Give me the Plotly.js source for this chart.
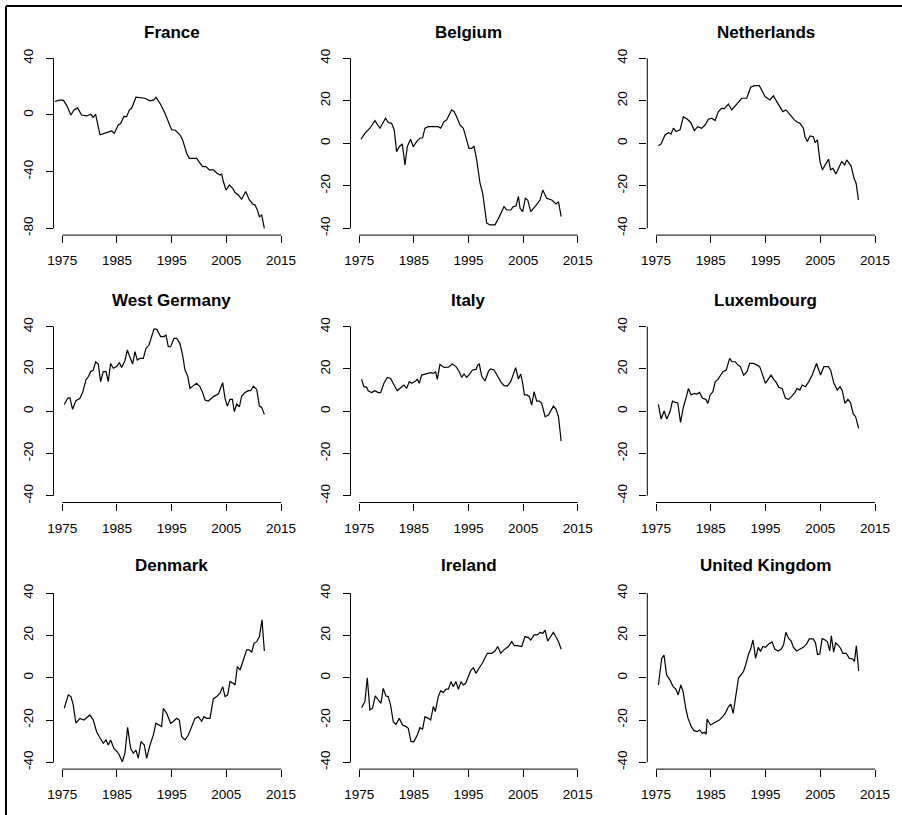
<!DOCTYPE html>
<html><head><meta charset="utf-8">
<script src="https://cdn.plot.ly/plotly-3.0.1.min.js"></script>
<style>html,body{margin:0;padding:0;background:#fff;} #chart{width:902px;height:815px;}</style>
</head><body><div id="chart"></div>
<script>
// ---- data ----
const countries = ["France","Belgium","Netherlands","West Germany","Italy","Luxembourg","Denmark","Ireland","United Kingdom"];
const xTicks = [1975,1985,1995,2005,2015];
const yTicks = [-40,-20,0,20,40];
const yTicksFrance = [-80,-40,0,40];

const franceYear = [1973.66,1974.45,1975.18,1975.79,1976.59,1977.13,1977.80,1978.54,1979.45,1980.18,1980.67,1981.10,1981.90,1982.50,1983.11,1984.02,1984.51,1985.24,1985.67,1986.28,1986.77,1987.26,1987.68,1988.48,1989.21,1990.12,1991.04,1991.77,1992.13,1992.87,1993.78,1995.00,1995.61,1996.52,1997.01,1997.74,1998.23,1998.96,1999.57,2000.18,2000.67,2001.28,2001.89,2002.62,2003.23,2003.84,2004.15,2004.45,2004.94,2005.55,2006.16,2006.59,2007.20,2007.80,2008.54,2009.21,2009.82,2010.24,2010.67,2011.04,2011.46,2011.95];
const franceValue = [9.5,10.5,10.5,7,0,3.5,5,0,-0.7,0.5,-1.6,0.5,-14,-13.5,-12.5,-11.3,-13,-7,-6,-1,-1.2,3.5,4.7,12.5,12.2,11.8,10,10.6,12.5,8.2,1.2,-10.6,-10.6,-14,-17.6,-27,-30.6,-30.6,-30.6,-34,-36.5,-36.5,-38.8,-38.8,-41,-42.4,-41.6,-47,-53,-49.4,-51.8,-54.8,-56.5,-59.5,-54,-60,-62.8,-63.5,-67,-71.8,-70.6,-80];

const belgiumYear = [1975.31,1976.04,1976.95,1977.87,1978.79,1979.82,1980.31,1980.92,1981.41,1981.84,1982.33,1982.88,1983.37,1983.79,1984.40,1984.89,1985.50,1986.11,1986.60,1987.03,1987.64,1988.56,1989.47,1989.90,1990.51,1991.00,1991.92,1992.34,1992.83,1993.44,1994.05,1994.66,1995.09,1995.58,1996.01,1996.50,1997.11,1997.60,1998.33,1998.94,1999.85,2000.65,2001.50,2001.99,2002.72,2003.21,2003.70,2004.13,2004.44,2004.92,2005.41,2005.84,2006.39,2007.18,2008.09,2008.59,2009.32,2010.24,2011.03,2011.47,2011.96];
const belgiumValue = [1.9,4.7,7.1,10.7,7.1,11.8,9.8,9.4,6.3,-3.9,-1.6,-0.3,-10.2,-1.6,1.9,-1.6,0.8,2.4,2.6,7.1,7.8,7.8,7.8,7.1,10.2,11,15.7,15,12.5,8.6,7.1,1.6,-2.4,-2.4,-1.3,-7.8,-18.8,-23.5,-37.6,-38.4,-38.4,-34.5,-29.8,-31.4,-31.4,-29.8,-29.5,-25,-30.6,-32.2,-25.9,-26.7,-32.2,-29.8,-26.7,-22,-25.9,-26.7,-28.5,-27.5,-34.5];

const netherlandsYear = [1975.43,1975.91,1976.64,1977.25,1977.74,1978.17,1978.65,1979.38,1979.99,1980.72,1981.33,1982.00,1982.61,1983.34,1983.95,1984.56,1985.17,1985.78,1986.39,1986.99,1987.42,1988.21,1988.82,1989.73,1990.65,1991.56,1992.29,1992.96,1993.87,1994.91,1995.82,1996.43,1997.22,1998.14,1998.74,1999.47,2000.27,2000.88,2001.30,2001.91,2002.21,2002.64,2003.13,2003.74,2004.04,2004.47,2004.95,2005.38,2006.07,2006.50,2006.88,2007.31,2007.85,2008.33,2008.91,2009.45,2009.83,2010.63,2011.16,2011.54,2011.97];
const netherlandsValue = [-1.1,-0.3,3.9,5,4.4,7.1,5.5,6.3,12.5,11.3,9.8,6,7.8,7.1,8.6,11.3,11.8,10.7,14.9,16.5,16.2,18.5,15.7,18.5,21.2,21.2,26.4,27.1,27.1,22,20.4,22.3,18.8,14.9,15.7,13.3,11,9.8,9.4,7.1,3.1,0.8,3.5,3.1,0.3,1.6,-8.6,-12.5,-9.4,-7.5,-12.5,-11.8,-14.4,-11.8,-8.6,-10.2,-7.8,-10.7,-16.5,-18.8,-26.7];

const westGermanyYear = [1975.37,1975.98,1976.40,1976.89,1977.50,1978.23,1978.72,1979.33,1979.76,1980.18,1980.67,1981.10,1981.59,1982.01,1982.50,1982.99,1983.41,1983.84,1984.33,1984.94,1985.43,1985.85,1986.46,1986.89,1987.38,1987.87,1988.29,1988.72,1989.21,1989.82,1990.30,1990.85,1991.77,1992.26,1992.99,1993.60,1993.96,1994.39,1994.82,1995.43,1995.91,1996.52,1997.01,1997.44,1997.93,1998.35,1998.96,1999.57,2000.18,2000.67,2001.10,2001.71,2002.62,2003.54,2004.33,2004.76,2005.18,2005.67,2006.10,2006.46,2006.89,2007.38,2007.80,2008.41,2009.02,2009.45,2009.94,2010.55,2011.04,2011.46,2011.95];
const westGermanyValue = [3.2,6.1,6.4,0.9,5,6.1,8.8,14.8,16.3,18.7,19.5,23.4,22.3,14,18.7,18.7,14,22.6,20.3,21.1,23,20.7,23.9,29,25.5,22.3,28.2,24.2,25,25,29.7,31.3,38.8,38.8,35.3,35.3,36,30.5,30.5,34.5,34.5,32,26.4,19.5,16.6,10.8,12.1,13.2,11.6,8.8,5.3,4.8,6.9,8.1,13.5,6.1,2.4,5.6,5.6,-0.2,3.4,2.1,7.2,8.8,9.7,9.7,11.8,10.3,2.4,1.8,-1.5];

const italyYear = [1975.43,1975.85,1976.34,1976.65,1977.26,1977.87,1978.48,1978.91,1979.52,1980.13,1980.74,1981.35,1981.96,1982.57,1983.18,1983.67,1984.16,1984.59,1985.20,1985.63,1985.99,1986.42,1987.03,1987.64,1988.07,1988.56,1988.98,1989.29,1989.78,1990.51,1991.31,1992.04,1992.71,1993.32,1993.75,1994.18,1994.66,1995.15,1995.76,1996.37,1996.68,1996.98,1997.41,1998.02,1998.63,1999.06,1999.67,2000.28,2000.89,2001.50,2002.11,2002.72,2003.21,2003.64,2004.13,2004.56,2004.92,2005.23,2005.66,2006.15,2006.57,2007.00,2007.49,2007.98,2008.40,2009.02,2009.63,2010.54,2011.03,2011.47,2011.96];
const italyValue = [15.1,11.6,11.4,9.7,8.8,9.7,8.8,8.8,13.2,16,15.5,12.9,9.7,11.1,12.4,10.8,14,13.2,14,15.1,13.2,17.1,17.4,17.9,18.2,17.9,18.7,15.1,22.2,20.7,20.8,22.3,21.1,18.7,16,17.6,16,17.4,19.5,19.8,21.8,22.3,16.6,14.3,18.7,20,19.5,16.8,14,12.1,11.9,14,17.9,20.6,15.2,17.6,13.2,7.7,7.7,6.9,2.9,9.2,4.8,4.8,3.7,-2.6,-1.8,2.4,0.9,-2.6,-14.1];

const luxembourgYear = [1975.43,1975.92,1976.47,1976.95,1977.56,1977.99,1978.48,1978.97,1979.46,1980.01,1980.50,1980.92,1981.41,1981.96,1982.45,1982.94,1983.49,1984.10,1984.47,1984.89,1985.38,1985.81,1986.24,1986.73,1987.21,1987.82,1988.44,1988.86,1989.47,1989.96,1990.39,1991.00,1991.61,1992.10,1992.83,1993.44,1993.93,1994.36,1994.97,1995.58,1996.01,1996.50,1996.98,1997.41,1998.02,1998.63,1999.24,1999.73,2000.34,2000.77,2001.26,2001.69,2002.30,2002.91,2003.52,2004.31,2005.05,2005.66,2006.45,2006.88,2007.49,2008.11,2008.59,2009.02,2009.50,2010.05,2010.53,2011.02,2011.45,2012.00];
const luxembourgValue = [3.2,-3.7,0.1,-3.7,-0.2,4.8,4.2,4,-5.3,2.1,6.5,10.8,7.7,8.4,8.1,8.9,6.1,5.6,3.7,7.7,9.2,14,14.8,17.1,18.7,19.5,25,23.4,23.4,21.8,21.1,17.1,18.7,22.6,22.6,21.8,21.1,17.9,13.2,15.5,17.1,15.1,13.5,11.3,10.8,6.1,5.6,6.9,8.8,10.8,10,12.4,11.6,14,17.1,22.6,17.1,21.1,21.1,19.5,13.2,10,11.6,9.7,3.7,5.6,4,-1.3,-2.6,-8.1];

const denmarkYear = [1975.37,1975.79,1976.10,1976.59,1977.01,1977.50,1978.23,1978.96,1979.57,1980.06,1980.67,1981.28,1981.77,1982.50,1982.99,1983.41,1983.84,1984.45,1985.06,1985.43,1985.98,1986.46,1986.95,1987.50,1987.99,1988.48,1988.90,1989.39,1990.00,1990.43,1991.04,1991.65,1992.13,1992.74,1993.17,1993.48,1994.09,1994.82,1995.30,1995.91,1996.40,1996.83,1997.44,1998.05,1998.66,1999.27,1999.88,2000.49,2000.91,2001.40,2002.01,2002.62,2003.23,2003.84,2004.33,2004.76,2005.24,2005.67,2006.28,2006.59,2007.01,2007.50,2008.11,2008.72,2009.21,2009.63,2010.06,2010.55,2011.04,2011.52,2011.95];
const denmarkValue = [-14.4,-11.3,-8.1,-8.9,-12.9,-21.5,-19.2,-20,-18.4,-17.6,-20,-25.5,-27.9,-31,-29.4,-31.8,-29.4,-33.4,-35,-36.5,-39.7,-35.7,-23.4,-33.4,-35.7,-34.2,-38.1,-30.2,-31.8,-38.1,-31.8,-27.1,-21.5,-22.3,-23.1,-14.4,-16.8,-21.5,-20.7,-19.2,-20,-27.9,-29.4,-27.1,-23.1,-19.2,-18.4,-20.6,-18.4,-19.2,-19.2,-10,-8.9,-7.3,-4.2,-8.9,-8.1,-1.8,-2.6,-3.4,5.3,3.7,8.4,13.2,13.2,12.1,16.3,17.1,19.5,27.4,12.7];

const irelandYear = [1975.43,1976.04,1976.47,1976.95,1977.44,1977.93,1978.48,1978.97,1979.40,1979.89,1980.31,1980.74,1981.23,1981.72,1982.33,1982.94,1983.55,1983.98,1984.47,1985.02,1985.63,1986.11,1986.60,1987.03,1987.64,1988.07,1988.56,1988.92,1989.47,1989.90,1990.39,1990.88,1991.31,1991.79,1992.22,1992.71,1993.14,1993.63,1994.05,1994.48,1994.97,1995.46,1995.89,1996.37,1996.92,1997.53,1998.02,1998.45,1999.24,1999.85,2000.34,2000.89,2001.50,2002.30,2002.91,2003.40,2003.95,2004.74,2005.35,2005.96,2006.39,2007.00,2007.61,2008.10,2008.59,2009.02,2009.50,2010.54,2011.15,2011.52,2011.96];
const irelandValue = [-14.1,-11.3,0,-15.2,-14.4,-8.6,-10.5,-12.1,-5,-8.6,-8.9,-12.9,-20.8,-22.1,-19.2,-22.3,-23.1,-23.9,-30.2,-30.2,-27.1,-23.6,-24.3,-18.4,-19.2,-20,-13.6,-16,-8.9,-6.2,-6.9,-5.4,-5.4,-1.8,-4.2,-1.8,-5.4,-1.8,-3.4,-2.6,0.6,3.7,4.8,2.1,4.5,6.9,9.5,11.6,11.6,12.7,14.8,11.6,13.2,14.8,17.1,15.2,15.2,14.8,19.5,19,17.9,20.3,20.3,21.5,21,22.6,17.4,21.5,18.7,16.8,13.5];

const ukYear = [1975.43,1975.85,1976.03,1976.45,1976.93,1977.53,1978.13,1978.62,1979.04,1979.52,1979.94,1980.42,1980.84,1981.44,1981.93,1982.47,1982.95,1983.43,1983.85,1984.15,1984.33,1984.93,1985.54,1986.08,1986.56,1987.16,1987.64,1988.24,1988.66,1989.09,1989.57,1990.05,1990.47,1990.95,1991.37,1991.85,1992.28,1992.70,1993.18,1993.66,1994.08,1994.50,1994.98,1995.58,1996.19,1996.67,1997.27,1997.87,1998.29,1998.71,1999.19,1999.68,2000.10,2000.70,2001.30,2001.90,2002.50,2002.98,2003.71,2004.13,2004.49,2004.91,2005.33,2005.81,2006.30,2006.72,2007.02,2007.44,2007.80,2008.22,2008.70,2009.12,2009.72,2010.32,2010.93,2011.23,2011.59,2012.01];
const ukValue = [-3.4,5.3,9.2,10.8,1.3,-1,-4.2,-5.3,-8.1,-3.4,-6.5,-14.4,-19.2,-23.1,-25,-25.5,-24.7,-26.3,-25.8,-26.7,-19.5,-22.3,-21.5,-20.4,-20,-18.4,-16.8,-13.6,-12.5,-16.8,-8.9,-0.2,1.3,2.9,6.1,10.8,13.6,17.9,9.2,14.4,12.5,14.8,14.4,16,17,13.6,12.7,13.6,15.6,21.5,18.7,17.4,14.4,12.7,13.6,14.4,16,18.4,18.4,16.5,11,11.3,18.5,18,17,12.7,19.9,12.1,16.5,15.6,14,11.6,11.6,9.2,8.9,7.7,15.2,3.2];

const seriesYears = [franceYear,belgiumYear,netherlandsYear,westGermanyYear,italyYear,luxembourgYear,denmarkYear,irelandYear,ukYear];
const seriesValues = [franceValue,belgiumValue,netherlandsValue,westGermanyValue,italyValue,luxembourgValue,denmarkValue,irelandValue,ukValue];

// ---- layout geometry (pixels in a 902x815 canvas) ----
const W = 902, H = 815;
const colPx = [[53.5,289.8],[350.5,586.5],[647.3,883.8]];
const rowPx = [[51.5,235.1],[319.9,502.5],[586.5,769.1]];
const titleY = [32.2,300,565.5];
const FONT = "Liberation Sans, Arial, Helvetica, sans-serif";
const TICKFONT = {family: FONT, size: 13.5, color: "#000"};

function ext(lo, hi){ const d = (hi-lo)*0.04; return [lo-d, hi+d]; }

const data = [], shapes = [], annotations = [];
const layout = {
  width: W, height: H, margin: {l:0,r:0,t:0,b:0},
  paper_bgcolor: "#fff", plot_bgcolor: "#fff",
  showlegend: false, font: {family: FONT, size: 13.5, color: "#000"}
};

countries.forEach((name, i) => {
  const r = Math.floor(i/3), c = i%3;
  const k = i === 0 ? "" : String(i+1);
  const yt = i === 0 ? yTicksFrance : yTicks;
  data.push({
    type: "scatter", mode: "lines", x: seriesYears[i], y: seriesValues[i],
    xaxis: "x"+k, yaxis: "y"+k, line: {color: "#000", width: 1.2}, hoverinfo: "skip"
  });
  layout["xaxis"+k] = {
    domain: [colPx[c][0]/W, colPx[c][1]/W], anchor: "y"+k,
    range: ext(xTicks[0], xTicks[xTicks.length-1]),
    tickmode: "array", tickvals: xTicks, ticktext: xTicks.map(String),
    ticks: "outside", ticklen: 7, tickwidth: 1, tickcolor: "#000",
    ticklabelstandoff: 6,
    showgrid: false, zeroline: false, showline: false,
    tickfont: TICKFONT, fixedrange: true
  };
  layout["yaxis"+k] = {
    domain: [1-rowPx[r][1]/H, 1-rowPx[r][0]/H], anchor: "x"+k,
    range: ext(yt[0], yt[yt.length-1]),
    tickmode: "array", tickvals: yt, ticktext: yt.map(String), tickangle: -90,
    ticks: "outside", ticklen: 7, tickwidth: 1, tickcolor: "#000",
    ticklabelstandoff: 7,
    showgrid: false, zeroline: false, showline: false,
    tickfont: TICKFONT, fixedrange: true
  };
  // R-style axis lines spanning first to last tick
  shapes.push({type:"line", xref:"x"+k, yref:"y"+k+" domain",
    x0: xTicks[0], x1: xTicks[xTicks.length-1], y0: 0, y1: 0, line:{color:"#000", width:1}});
  shapes.push({type:"line", xref:"x"+k+" domain", yref:"y"+k,
    x0: 0, x1: 0, y0: yt[0], y1: yt[yt.length-1], line:{color:"#000", width:1}});
  annotations.push({
    text: "<b>"+name+"</b>", xref: "paper", yref: "paper",
    x: (colPx[c][0]+colPx[c][1])/2/W, y: 1-titleY[r]/H,
    xanchor: "center", yanchor: "middle", showarrow: false,
    font: {family: FONT, size: 17, color: "#000"}
  });
});

// frame lines at the left and top edge of the picture
shapes.push({type:"line", xref:"paper", yref:"paper", x0: 6/W, x1: 6/W, y0: 0, y1: 1-6/H, line:{color:"#000", width:2}});
shapes.push({type:"line", xref:"paper", yref:"paper", x0: 6/W, x1: 1, y0: 1-6/H, y1: 1-6/H, line:{color:"#000", width:2}});

layout.shapes = shapes;
layout.annotations = annotations;

Plotly.newPlot("chart", data, layout, {staticPlot: true, displayModeBar: false});
</script></body></html>
